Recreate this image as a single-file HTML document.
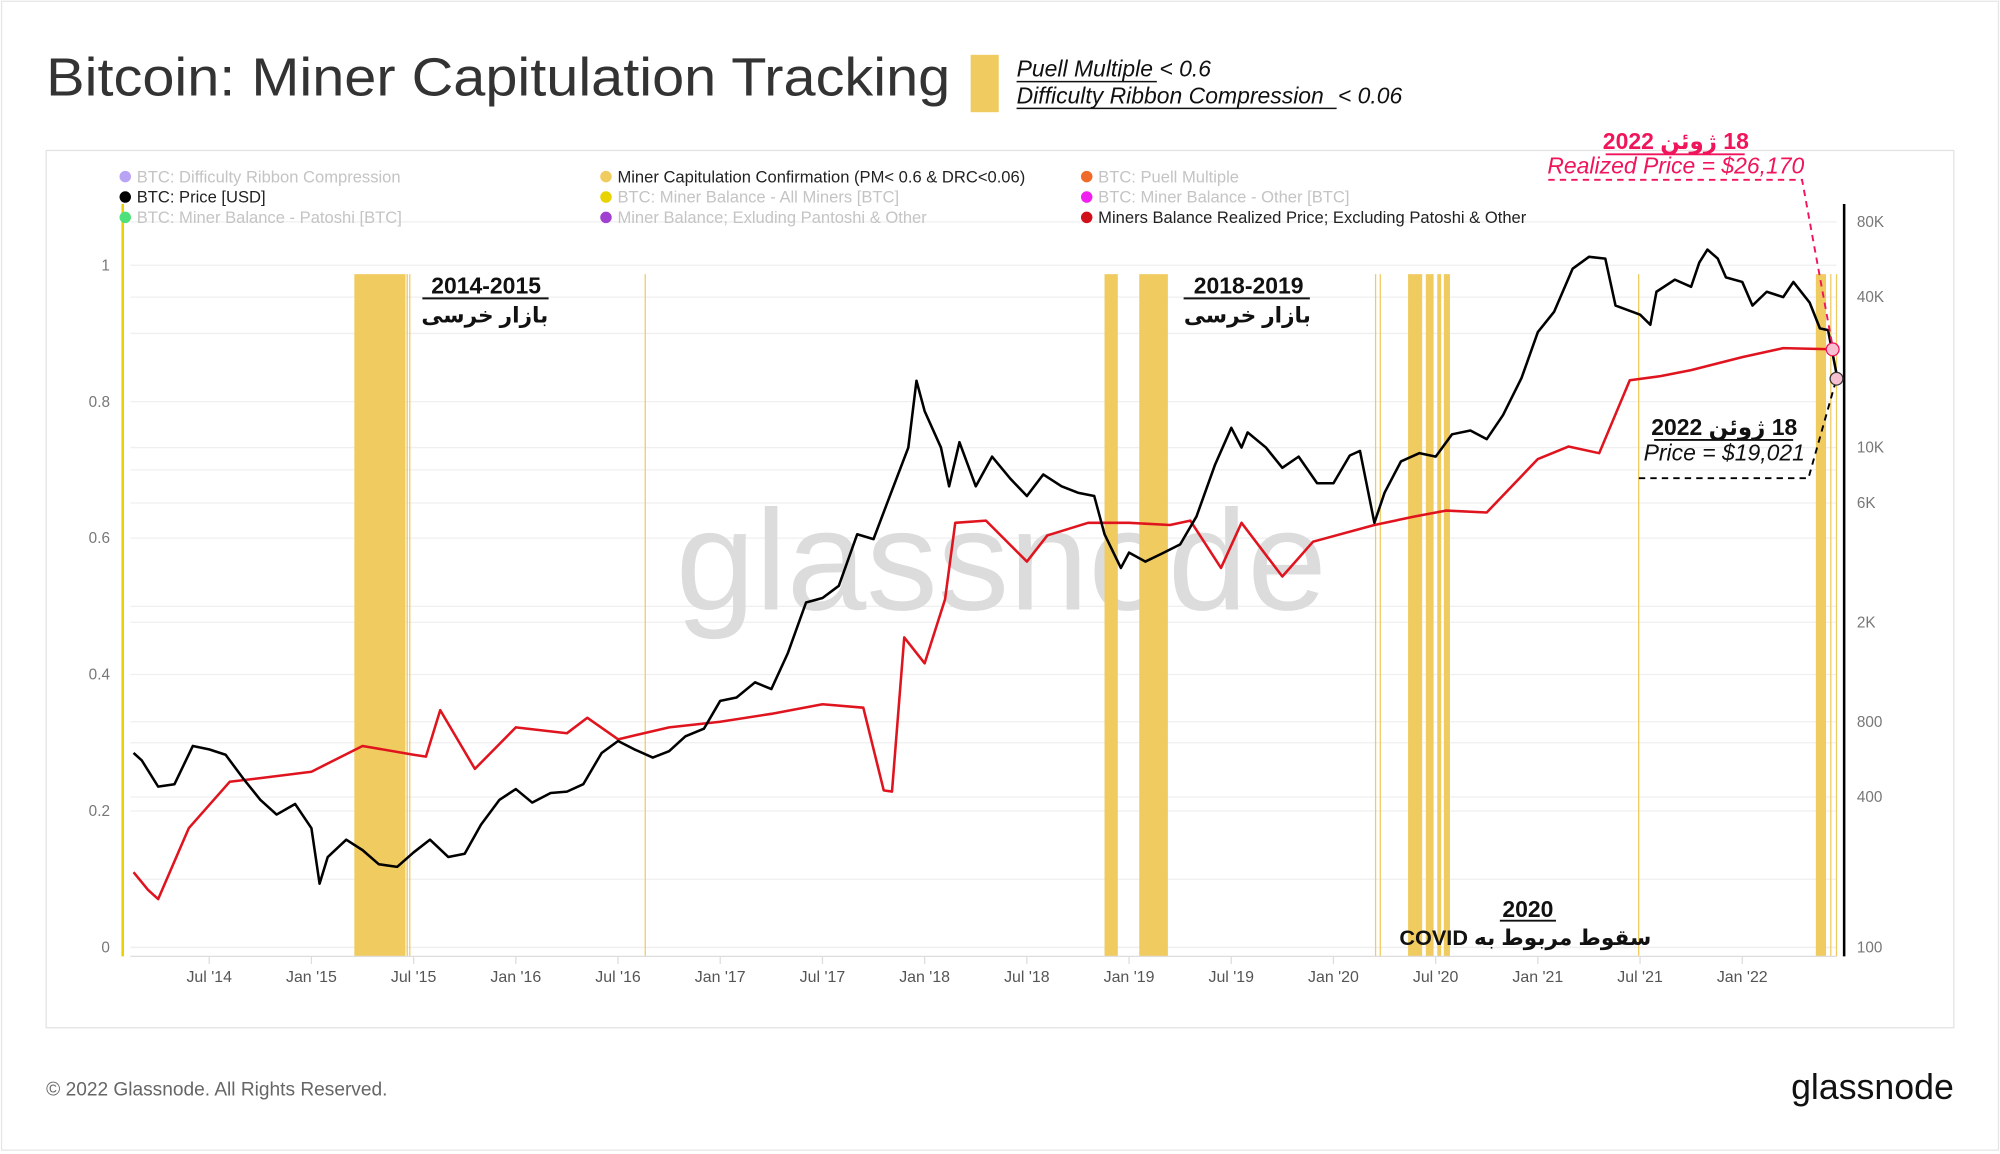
<!DOCTYPE html>
<html><head><meta charset="utf-8">
<style>
html,body{margin:0;padding:0;background:#fff;}
svg{display:block;font-family:"Liberation Sans","Noto Sans CJK SC","DejaVu Sans",sans-serif;}
</style></head>
<body>
<svg id="chart" width="2000" height="1154" viewBox="0 0 1568 905" xmlns="http://www.w3.org/2000/svg">
<rect x="0" y="0" width="1568" height="905" fill="#fff"/>
<rect x="1" y="1" width="1566" height="901" fill="none" stroke="#e6e6e6" stroke-width="1"/>
<text x="36" y="75" font-size="42" fill="#333" textLength="709" lengthAdjust="spacingAndGlyphs">Bitcoin: Miner Capitulation Tracking</text>
<rect x="761" y="43" width="22" height="45" fill="#f0cb5f"/>
<g font-style="italic" font-size="18" fill="#111">
<text x="797" y="60">Puell Multiple <tspan>&lt; 0.6</tspan></text>
<line x1="797" y1="64" x2="907" y2="64" stroke="#111" stroke-width="1.2"/>
<text x="797" y="81">Difficulty Ribbon Compression <tspan dx="6">&lt; 0.06</tspan></text>
<line x1="797" y1="85" x2="1048" y2="85" stroke="#111" stroke-width="1.2"/>
</g>
<rect x="36" y="118" width="1496" height="688" fill="none" stroke="#e3e3e3"/>
<g id="grid"></g>
<text x="785" y="478" font-size="112" fill="#dcdcdc" text-anchor="middle">glassnode</text>
<g id="bands"></g>
<g id="series"></g>
<g id="axes"></g>
<g id="legend" font-size="13"></g>
<g font-weight="bold" fill="#111" text-anchor="middle">
<text x="381" y="230" font-size="18">2014-2015</text>
<line x1="331" y1="234" x2="430" y2="234" stroke="#111" stroke-width="1.5"/>
<text x="380" y="253" font-size="17" direction="rtl">بازار خرسی</text>
<text x="979" y="230" font-size="18">2018-2019</text>
<line x1="928" y1="234" x2="1027" y2="234" stroke="#111" stroke-width="1.5"/>
<text x="978" y="253" font-size="17" direction="rtl">بازار خرسی</text>
<text x="1198" y="719" font-size="18">2020</text>
<line x1="1176" y1="722" x2="1220" y2="722" stroke="#111" stroke-width="1.5"/>
<text x="1196" y="741" font-size="17" direction="rtl" unicode-bidi="embed">سقوط مربوط به COVID</text>
<text x="1352" y="341" font-size="18" direction="rtl" unicode-bidi="embed">18 ژوئن 2022</text>
<line x1="1297" y1="345" x2="1406" y2="345" stroke="#111" stroke-width="1.5"/>
<text x="1352" y="361" font-size="18" font-weight="normal" font-style="italic">Price = $19,021</text>
<text x="1314" y="117" font-size="18" fill="#f0145a" direction="rtl" unicode-bidi="embed">18 ژوئن 2022</text>
<line x1="1259" y1="121" x2="1368" y2="121" stroke="#f0145a" stroke-width="1.5"/>
<text x="1314" y="136" font-size="18" font-weight="normal" font-style="italic" fill="#f0145a">Realized Price = $26,170</text>
</g>
<g id="markers"></g>
<text x="36" y="859" font-size="15" fill="#666">© 2022 Glassnode. All Rights Reserved.</text>
<text x="1532" y="862" font-size="28" fill="#111" text-anchor="end">glassnode</text>
</svg>
<script>
// ---- data ----
const priceDates = [2014.13,2014.17,2014.25,2014.33,2014.42,2014.5,2014.58,2014.67,2014.75,2014.83,2014.92,2015.0,2015.04,2015.08,2015.17,2015.25,2015.33,2015.42,2015.5,2015.58,2015.67,2015.75,2015.83,2015.92,2016.0,2016.08,2016.17,2016.25,2016.33,2016.42,2016.5,2016.58,2016.67,2016.75,2016.83,2016.92,2017.0,2017.08,2017.17,2017.25,2017.33,2017.42,2017.5,2017.58,2017.67,2017.75,2017.83,2017.92,2017.96,2018.0,2018.08,2018.12,2018.17,2018.25,2018.33,2018.42,2018.5,2018.58,2018.67,2018.75,2018.83,2018.88,2018.96,2019.0,2019.08,2019.17,2019.25,2019.33,2019.42,2019.5,2019.55,2019.58,2019.67,2019.75,2019.83,2019.92,2020.0,2020.08,2020.13,2020.2,2020.25,2020.33,2020.42,2020.5,2020.58,2020.67,2020.75,2020.83,2020.92,2021.0,2021.08,2021.17,2021.25,2021.33,2021.38,2021.42,2021.5,2021.55,2021.58,2021.67,2021.75,2021.79,2021.83,2021.88,2021.92,2022.0,2022.05,2022.12,2022.2,2022.25,2022.33,2022.38,2022.42,2022.46];
const priceValues = [600,560,440,450,640,620,590,470,390,340,375,300,180,230,270,245,215,210,240,270,230,237,310,390,430,380,415,420,450,600,670,620,575,610,700,750,970,1000,1150,1080,1500,2400,2500,2800,4500,4300,6400,10000,18500,14000,10000,7000,10500,7000,9200,7500,6400,7800,7000,6600,6400,4500,3300,3800,3500,3800,4100,5300,8500,12000,10000,11500,10000,8300,9200,7200,7200,9300,9700,5000,6600,8800,9500,9200,11300,11700,10800,13500,19000,29000,35000,52000,58000,57000,37000,36000,34000,31000,42000,47000,44000,55000,62000,57000,48000,46000,37000,42000,40000,46000,38000,30000,29500,20000];
const realDates = [2014.13,2014.2,2014.25,2014.4,2014.6,2014.75,2015.0,2015.25,2015.5,2015.56,2015.63,2015.8,2016.0,2016.25,2016.35,2016.5,2016.75,2017.0,2017.25,2017.5,2017.7,2017.8,2017.84,2017.9,2018.0,2018.1,2018.15,2018.3,2018.5,2018.6,2018.8,2019.0,2019.2,2019.3,2019.45,2019.55,2019.75,2019.9,2020.2,2020.4,2020.55,2020.75,2021.0,2021.15,2021.3,2021.45,2021.6,2021.75,2022.0,2022.2,2022.46];
const realValues = [200,170,156,300,460,476,505,640,590,580,890,518,760,720,830,680,760,800,860,940,910,425,420,1740,1370,2470,5000,5100,3500,4450,5000,5000,4900,5100,3300,5000,3050,4200,4900,5300,5600,5500,9000,10100,9500,18600,19300,20400,23000,25000,24700];
const bandStarts = [2015.21,2015.465,2015.478,2016.63,2018.88,2019.05,2020.203,2020.226,2020.365,2020.452,2020.508,2020.54,2021.49,2022.36,2022.43,2022.458];
const bandEnds   = [2015.46,2015.472,2015.484,2016.636,2018.945,2019.19,2020.208,2020.231,2020.434,2020.49,2020.527,2020.57,2021.496,2022.41,2022.436,2022.464];
const leftTicks = [0,0.2,0.4,0.6,0.8,1];
const rightTicks = [100,400,800,2000,6000,10000,40000,80000];
const rightLabels = ["100","400","800","2K","6K","10K","40K","80K"];
const xTickDates = [2014.5,2015,2015.5,2016,2016.5,2017,2017.5,2018,2018.5,2019,2019.5,2020,2020.5,2021,2021.5,2022];
const xTickLabels = ["Jul '14","Jan '15","Jul '15","Jan '16","Jul '16","Jan '17","Jul '17","Jan '18","Jul '18","Jan '19","Jul '19","Jan '20","Jul '20","Jan '21","Jul '21","Jan '22"];
// ---- scales ----
const X = d => 244 + (d - 2015) * 160.3;
const YR = p => 743 - 196 * Math.log10(p / 100);
const YL = v => 743 - 535 * v;
const NS = "http://www.w3.org/2000/svg";
function mk(tag, attrs, parent){const e=document.createElementNS(NS,tag);for(const k in attrs)e.setAttribute(k,attrs[k]);parent.appendChild(e);return e;}
const grid=document.getElementById('grid'),bands=document.getElementById('bands'),series=document.getElementById('series'),axes=document.getElementById('axes'),legend=document.getElementById('legend'),markers=document.getElementById('markers');
for(let v=0;v<=1.001;v+=0.1){mk('line',{x1:102,x2:1440,y1:YL(v),y2:YL(v),stroke:'#efefef','stroke-width':1},grid);}
rightTicks.forEach(p=>{mk('line',{x1:102,x2:1440,y1:YR(p),y2:YR(p),stroke:'#efefef','stroke-width':1},grid);});
bandStarts.forEach((s,i)=>{const r=mk('rect',{x:X(s),y:215,width:Math.max(1,X(bandEnds[i])-X(s)),height:535,fill:'#f0cb5f'},bands);

});
function path(ds,vs,color,w,name){let d='';ds.forEach((t,i)=>{d+=(i?'L':'M')+X(t).toFixed(1)+' '+YR(vs[i]).toFixed(1);});
const p=mk('path',{d:d,fill:'none',stroke:color,'stroke-width':w,'stroke-linejoin':'round'},series);

}
path(realDates,realValues,'#e0141e',2,'realized-price-line');
path(priceDates,priceValues,'#000',2,'btc-price-line');
const la=mk('line',{x1:96,x2:96,y1:160,y2:750,stroke:'#e8d200','stroke-width':2},axes);


const ra=mk('line',{x1:1446,x2:1446,y1:160,y2:750,stroke:'#000','stroke-width':2},axes);


mk('line',{x1:102,x2:1440,y1:750,y2:750,stroke:'#ddd','stroke-width':1},axes);
leftTicks.forEach(v=>{const t=mk('text',{x:86,y:YL(v)+4,'font-size':12,fill:'#777','text-anchor':'end'},axes);t.textContent=String(v);

});
rightTicks.forEach((p,i)=>{const t=mk('text',{x:1456,y:YR(p)+4,'font-size':12,fill:'#777'},axes);t.textContent=rightLabels[i];

});
xTickDates.forEach((d,i)=>{mk('line',{x1:X(d),x2:X(d),y1:750,y2:756,stroke:'#ddd'},axes);
const t=mk('text',{x:X(d),y:770,'font-size':12.5,fill:'#555','text-anchor':'middle'},axes);t.textContent=xTickLabels[i];

});
const legItems=[[98,143,'#b9a3f5','BTC: Difficulty Ribbon Compression',0],[475,143,'#f0cb5f','Miner Capitulation Confirmation (PM< 0.6 & DRC<0.06)',1],[852,143,'#f06a2a','BTC: Puell Multiple',0],
[98,159,'#000','BTC: Price [USD]',1],[475,159,'#e8d200','BTC: Miner Balance - All Miners [BTC]',0],[852,159,'#f020f0','BTC: Miner Balance - Other [BTC]',0],
[98,175,'#4ee07a','BTC: Miner Balance - Patoshi [BTC]',0],[475,175,'#a040d0','Miner Balance; Exluding Pantoshi & Other',0],[852,175,'#d0101a','Miners Balance Realized Price; Excluding Patoshi & Other',1]];
legItems.forEach(it=>{const g=mk('g',{},legend);


mk('circle',{cx:it[0],cy:it[1]-4.5,r:4.5,fill:it[2]},g);
const t=mk('text',{x:it[0]+9,y:it[1],fill:it[4]?'#222':'#c4c4c4'},g);t.textContent=it[3];});
mk('polyline',{points:'1214,141 1413,141 1437,272',fill:'none',stroke:'#f0145a','stroke-width':1.5,'stroke-dasharray':'5,4'},markers);
mk('polyline',{points:'1285,375 1418,375 1440,297',fill:'none',stroke:'#000','stroke-width':1.5,'stroke-dasharray':'5,4'},markers);
mk('circle',{cx:1437,cy:274,r:5,fill:'#f7c0d0',stroke:'#f0145a','stroke-width':1},markers);
mk('circle',{cx:1440,cy:297,r:5,fill:'#f7c0d0',stroke:'#333','stroke-width':1},markers);
</script>
</body></html>
